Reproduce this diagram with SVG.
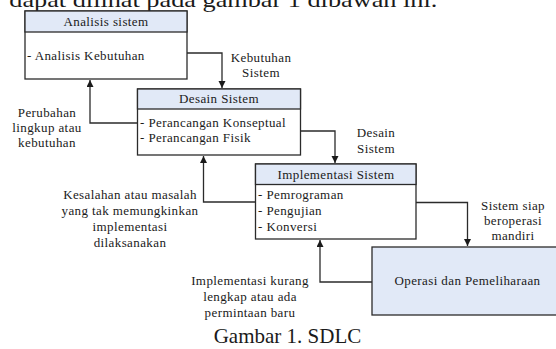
<svg xmlns="http://www.w3.org/2000/svg" width="556" height="349" viewBox="0 0 556 349">
<style>
.box{fill:#ffffff;stroke:#2b2b2b;stroke-width:1.3}
.hdr{fill:#e1e9f7;stroke:#2b2b2b;stroke-width:1.3}
.t{font-family:"Liberation Serif","Times New Roman",serif;font-size:13px;letter-spacing:0.4px;fill:#1a1a1a}
.c{text-anchor:middle}
.edge{fill:none;stroke:#2b2b2b;stroke-width:1.3}
.cap{font-family:"Liberation Serif","Times New Roman",serif;font-size:21px;fill:#1a1a1a}
</style>
<defs>
<marker id="arr" markerUnits="userSpaceOnUse" markerWidth="8" markerHeight="8" refX="7" refY="3.5" orient="auto">
<path d="M0,0 L7,3.5 L0,7 z" fill="#1a1a1a"/>
</marker>
</defs>
<rect width="556" height="349" fill="#ffffff"/>
<text class="cap" x="9.3" y="7" textLength="428" lengthAdjust="spacingAndGlyphs" font-size="24">dapat dilihat pada gambar 1 dibawah ini.</text>

<g id="analisis">
<rect class="box" x="25" y="11" width="162" height="68"/>
<rect class="hdr" x="25" y="11" width="162" height="21"/>
<text class="t c" x="106" y="26">Analisis sistem</text>
<text class="t" x="27" y="60">- Analisis Kebutuhan</text>
</g>

<g id="desain">
<rect class="box" x="137.5" y="89" width="163" height="66"/>
<rect class="hdr" x="137.5" y="89" width="163" height="20"/>
<text class="t c" x="219" y="103">Desain Sistem</text>
<text class="t" x="140" y="127">- Perancangan Konseptual</text>
<text class="t" x="140" y="142">- Perancangan Fisik</text>
</g>

<g id="implementasi">
<rect class="box" x="255.5" y="164" width="160.5" height="75"/>
<rect class="hdr" x="255.5" y="164" width="160.5" height="20.5"/>
<text class="t c" x="336" y="179">Implementasi Sistem</text>
<text class="t" x="258" y="199">- Pemrograman</text>
<text class="t" x="258" y="215">- Pengujian</text>
<text class="t" x="258" y="231">- Konversi</text>
</g>

<g id="operasi">
<rect class="hdr" x="372" y="247" width="190" height="68"/>
<text class="t c" x="467.5" y="285">Operasi dan Pemeliharaan</text>
</g>

<g id="connectors">
<path class="edge" d="M187,53 H222 V88" marker-end="url(#arr)"/>
<path class="edge" d="M137.5,123 H90 V80" marker-end="url(#arr)"/>
<path class="edge" d="M300.5,131 H335 V163" marker-end="url(#arr)"/>
<path class="edge" d="M255.5,202 H203.5 V156" marker-end="url(#arr)"/>
<path class="edge" d="M416,202.5 H467.5 V246" marker-end="url(#arr)"/>
<path class="edge" d="M372,282 H320 V240" marker-end="url(#arr)"/>
</g>

<g id="labels">
<text class="t c" x="261" y="62">Kebutuhan</text>
<text class="t c" x="261" y="77">Sistem</text>
<text class="t c" x="47" y="117">Perubahan</text>
<text class="t c" x="47" y="132">lingkup atau</text>
<text class="t c" x="47" y="147">kebutuhan</text>
<text class="t c" x="376" y="137">Desain</text>
<text class="t c" x="376" y="153">Sistem</text>
<text class="t c" x="130" y="199">Kesalahan atau masalah</text>
<text class="t c" x="130" y="215">yang tak memungkinkan</text>
<text class="t c" x="130" y="231">implementasi</text>
<text class="t c" x="130" y="247">dilaksanakan</text>
<text class="t c" x="513" y="210">Sistem siap</text>
<text class="t c" x="513" y="225">beroperasi</text>
<text class="t c" x="513" y="240">mandiri</text>
<text class="t c" x="250" y="285">Implementasi kurang</text>
<text class="t c" x="250" y="301">lengkap atau ada</text>
<text class="t c" x="250" y="317">permintaan baru</text>
</g>
<text class="cap" x="287.5" y="343" text-anchor="middle">Gambar 1. SDLC</text>
</svg>
